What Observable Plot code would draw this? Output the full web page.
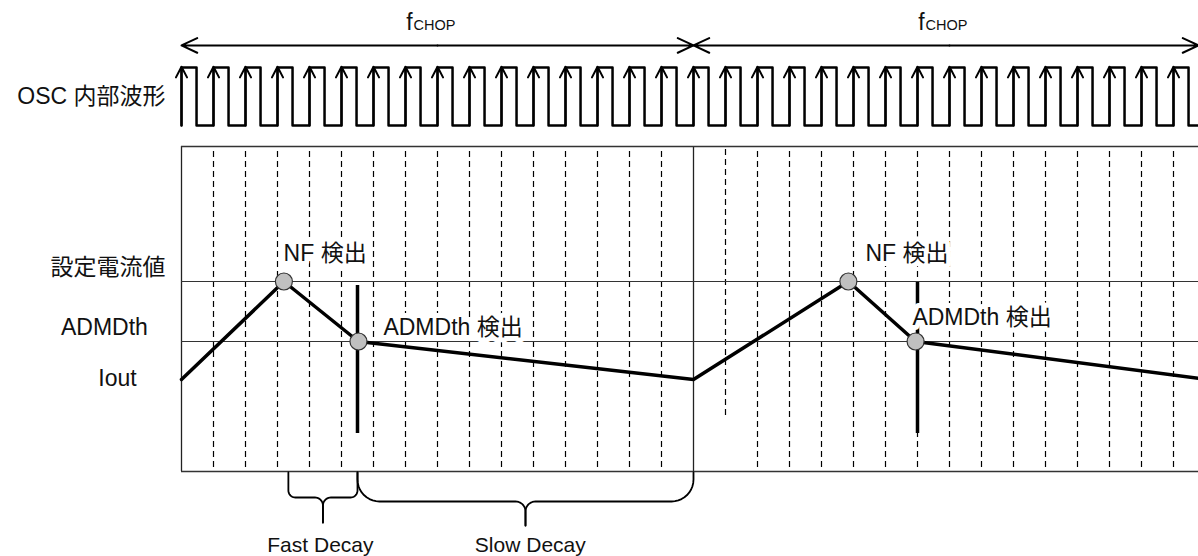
<!DOCTYPE html>
<html><head><meta charset="utf-8">
<script src="https://cdn.jsdelivr.net/npm/d3@7"></script>
<script src="https://cdn.jsdelivr.net/npm/@observablehq/plot@0.6"></script>
<style>body{margin:0;background:#fff}svg{display:block}</style>
</head><body><div id="chart"></div>
<script>
// ---- data (time in OSC periods, current in arbitrary % units) ----
const oscEdges = d3.range(0, 32);            // OSC rising edges
const oscDuty = 0.47;
const oscLevel = [152, 171.3];              // low, high
const chopStarts = [0, 16];                  // fCHOP period boundaries
const chopLen = 16;
const dashedTimes = oscEdges.filter(t => t !== 0 && t !== 16);
const dashedBottoms = dashedTimes.map(t => (t === 17 ? 55.3 : 38));
const levelNames = ["設定電流値", "ADMDth"];
const levelValues = [100, 80];
const ioutT = [0, 3.2, 5.53, 16, 20.84, 22.94, 31.78];
const ioutI = [67.3, 100, 80, 67.3, 100, 80, 67.7];
const nfT = [3.2, 20.84];
const admT = [5.53, 22.94];
const detectT = [5.5, 23.0];
const detectTop = [98.7, 99.7];
const detectBottom = [49.3, 49.3];
const nfLabelT = [3.19, 21.375];
const admLabelT = [6.31, 22.84];
const admLabelI = [84.7, 88];
const braceNames = ["Fast Decay", "Slow Decay"];
const braceStart = [3.34, 5.5];
const braceEnd = [5.5, 16];
const braceTip = [4.42, 10.75];

// ---- layout constants ----
const pxPerT = 32, pxPerI = 3;
const xMin = -181 / pxPerT, xMax = (1198 - 181) / pxPerT;
const yMin = 100 - 275 / pxPerI, yMax = 100 + 281 / pxPerI;
const boxTop = 145, boxBottom = 36.67;
const FONT = "'Liberation Sans', Arial, 'Noto Sans CJK JP', sans-serif";
const FS = 23;

// square wave
const wave = [];
oscEdges.forEach(k => {
  wave.push({t: k, v: oscLevel[0]}, {t: k, v: oscLevel[1]});
  wave.push({t: Math.min(k + oscDuty, xMax), v: oscLevel[1]}, {t: Math.min(k + oscDuty, xMax), v: oscLevel[0]});
});
wave.push({t: xMax, v: oscLevel[0]});

const iout = ioutT.map((t, i) => ({t, v: ioutI[i]}));

// braces
const braceSpec = [
  {yTop: 36.33, yMid: 28, yTip: 19.67, rEnd: 7, rTip: 8},
  {yTop: 36.33, yMid: 26.67, yTip: 18.67, rEnd: 22, rTip: 10}
];
const bracePts = [];
braceNames.forEach((name, i) => {
  const s = braceSpec[i];
  const rx = s.rEnd / pxPerT, ry = s.rEnd / pxPerI, rxT = s.rTip / pxPerT, ryT = s.rTip / pxPerI;
  [[braceStart[i], 1], [braceEnd[i], -1]].forEach(([tEnd, dir]) => {
    const id = name + dir;
    bracePts.push({id, t: tEnd, v: s.yTop});
    for (let a = 0; a <= 1.0001; a += 0.1) {
      const th = a * Math.PI / 2;
      bracePts.push({id, t: tEnd + dir * rx - dir * rx * Math.cos(th), v: s.yMid + ry - ry * Math.sin(th)});
    }
    for (let a = 0; a <= 1.0001; a += 0.1) {
      const th = a * Math.PI / 2;
      bracePts.push({id, t: braceTip[i] - dir * rxT + dir * rxT * Math.sin(th), v: s.yMid - ryT + ryT * Math.cos(th)});
    }
    bracePts.push({id, t: braceTip[i], v: s.yTip});
  });
});

const arrows = [];
chopStarts.forEach(s => {
  const mid = s + chopLen / 2;
  arrows.push({x1: mid, x2: s}, {x1: mid, x2: Math.min(s + chopLen, xMax)});
});

const halo = {stroke: "white", strokeWidth: 10, strokeLinejoin: "round", paintOrder: "stroke", fill: "#111"};

const chart = Plot.plot({
  width: 1198, height: 556, margin: 0,
  x: {domain: [xMin, xMax], axis: null},
  y: {domain: [yMin, yMax], axis: null},
  style: {fontFamily: FONT, background: "white", overflow: "visible"},
  marks: [
    Plot.ruleX(dashedTimes, {x: d => d, y1: (d, i) => dashedBottoms[i], y2: boxTop, stroke: "#000", strokeWidth: 1.2, strokeDasharray: "6,4"}),
    Plot.ruleX(chopStarts, {x: d => d, y1: boxBottom, y2: boxTop, stroke: "#222", strokeWidth: 1.3}),
    Plot.ruleY([boxTop, boxBottom], {y: d => d, x1: 0, x2: xMax, stroke: "#333", strokeWidth: 1.3}),
    Plot.ruleY(levelValues, {y: d => d, x1: 0, x2: xMax, stroke: "#333", strokeWidth: 1}),
    Plot.ruleX(detectT, {x: d => d, y1: (d, i) => detectTop[i], y2: (d, i) => detectBottom[i], stroke: "#000", strokeWidth: 3.5}),
    Plot.text(nfLabelT, {x: d => d, y: 109.3, text: () => "NF 検出", textAnchor: "start", fontSize: FS, ...halo}),
    Plot.text(admLabelT, {x: d => d, y: (d, i) => admLabelI[i], text: () => "ADMDth 検出", textAnchor: "start", fontSize: FS, ...halo}),
    Plot.line(iout, {x: "t", y: "v", stroke: "#000", strokeWidth: 3.5, strokeLinejoin: "round"}),
    Plot.dot(nfT.map(t => ({t, v: levelValues[0]})).concat(admT.map(t => ({t, v: levelValues[1]}))),
      {x: "t", y: "v", r: 8.5, fill: "#c0c0c0", stroke: "#333", strokeWidth: 1.2}),
    Plot.line(wave, {x: "t", y: "v", stroke: "#000", strokeWidth: 2.5, strokeLinejoin: "round"}),
    Plot.arrow(oscEdges, {x1: d => d, x2: d => d, y1: oscLevel[0], y2: oscLevel[1] + 0.3, stroke: "#000", strokeWidth: 2, headLength: 9, headAngle: 55, insetEnd: 0}),
    Plot.arrow(arrows, {x1: "x1", x2: "x2", y1: 178.7, y2: 178.7, stroke: "#000", strokeWidth: 2, headLength: 13, headAngle: 50}),
    Plot.text(chopStarts, {x: d => d + chopLen / 2 - 0.78, y: 183.7, text: () => "f", textAnchor: "end", lineAnchor: "bottom", fontSize: 23, fill: "#111"}),
    Plot.text(chopStarts, {x: d => d + chopLen / 2 - 0.78, y: 183.7, text: () => "CHOP", textAnchor: "start", lineAnchor: "bottom", fontSize: 14.5, fill: "#111", dx: 1}),
    Plot.text(["OSC 内部波形"], {x: -0.5, y: 161.7, text: d => d, textAnchor: "end", fontSize: FS, fill: "#111"}),
    Plot.text(["設定電流値"], {x: -0.5, y: 104.7, text: d => d, textAnchor: "end", fontSize: FS, fill: "#111"}),
    Plot.text(["ADMDth"], {x: -2.41, y: 84.7, text: d => d, textAnchor: "middle", fontSize: FS, fill: "#111"}),
    Plot.text(["Iout"], {x: -2.0, y: 67.7, text: d => d, textAnchor: "middle", fontSize: FS, fill: "#111"}),
    Plot.line(bracePts, {x: "t", y: "v", z: "id", stroke: "#000", strokeWidth: 1.8, strokeLinejoin: "round"}),
    Plot.text(braceNames, {x: (d, i) => braceTip[i] - 0.08 + i * 0.23, y: 12, text: d => d, textAnchor: "middle", fontSize: 21, fill: "#111"})
  ]
});
document.getElementById("chart").append(chart);
</script>
</body></html>
